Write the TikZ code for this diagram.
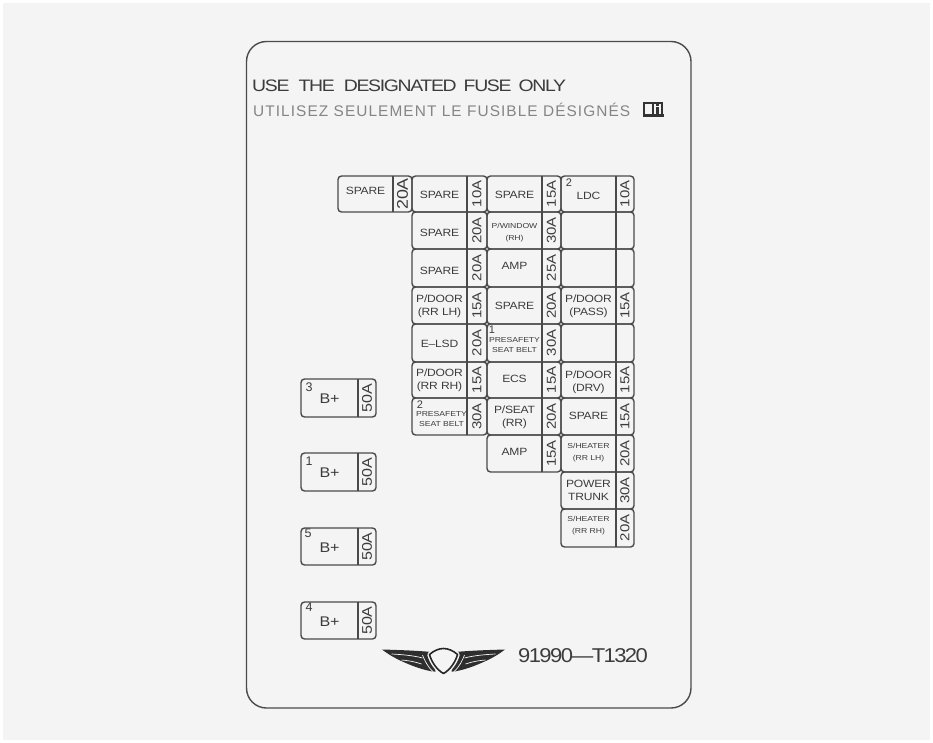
\documentclass[tikz,border=0pt]{standalone}
\usepackage{fontspec}
\setmainfont{Liberation Sans}
\newfontfamily\wide[FakeStretch=1.15,LetterSpace=-2]{Liberation Sans}
\newfontfamily\smallw[FakeStretch=1.2,LetterSpace=-1]{Liberation Sans}
\newfontfamily\titlew[FakeStretch=1.17,LetterSpace=-8]{Liberation Sans}
\newfontfamily\partw[FakeStretch=1.1,LetterSpace=-8]{Liberation Sans}
\newfontfamily\spaced[LetterSpace=7]{Liberation Sans}
\definecolor{bgc}{HTML}{F4F4F4}
\definecolor{ink}{HTML}{3C3C3C}
\definecolor{rule}{HTML}{4A4A4A}
\tikzset{
  x=1pt,y=-1pt,
  cellbox/.style={draw=rule,line width=1.4pt,rounded corners=3.5pt},
  divider/.style={draw=rule,line width=1.4pt},
  lab/.style={text=ink,inner sep=0pt,align=center,font=\wide\fontsize{10.5}{12.7}\selectfont},
  tiny/.style={text=ink,inner sep=0pt,align=center,font=\smallw\fontsize{7.2}{10}\selectfont},
  bplus/.style={lab,font=\wide\fontsize{14}{14}\selectfont},
  amp/.style={text=ink,inner sep=0pt,rotate=90,font=\wide\fontsize{13}{13}\selectfont},
  ampbig/.style={font=\wide\fontsize{15.5}{15}\selectfont},
  ampmid/.style={font=\wide\fontsize{14}{14}\selectfont},
  num/.style={text=ink,inner sep=0pt,font=\fontsize{11}{11}\selectfont},
  numbig/.style={num,font=\fontsize{12.5}{12}\selectfont},
  wingline/.style={draw=bgc,line width=.7pt},
}
\newcommand{\fusecell}[9]{%
  \draw[cellbox] (#2,#5) rectangle (#4,#6);
  \draw[divider] (#3,#5) -- (#3,#6);
  \path (#2,#5) -- (#3,#6) node[midway,yshift=-#7pt,#8] (#1) {#9};
  \fuseamp{#1}{#3}{#4}{#5}{#6}}
\newcommand{\fuseamp}[5]{\ampnext{#1}{#2}{#3}{#4}{#5}}
\newcommand{\ampnext}[6]{\path (#2,#4) -- (#3,#5) node[midway,amp,\ampstyle] (#1a) {#6};}
\newcommand{\ampstyle}{}
\begin{document}
\begin{tikzpicture}
\useasboundingbox (0,0) rectangle (933,743);
\fill[white] (0,0) rectangle (933,743);
\fill[bgc] (3,3) rectangle (930,740);
% card
\draw[draw=rule,line width=1.4pt,rounded corners=20pt] (246.5,41.5) rectangle (691,708);
% titles
\node[anchor=base west,inner sep=0pt,text=ink,font=\titlew\fontsize{16.6}{17}\selectfont] (t1) at (252,92) {USE\hspace{5pt} THE\hspace{5pt} DESIGNATED\hspace{3pt} FUSE\hspace{3pt} ONLY};
\node[anchor=base west,inner sep=0pt,text=black!48,font=\spaced\fontsize{15.4}{16}\selectfont] (t2) at (253,117) {UTILISEZ SEULEMENT LE FUSIBLE DÉSIGNÉS};
% book icon
\draw[black!80,line width=1.5pt,fill=bgc] (643.8,103) rectangle (653,115);
\draw[black!80,line width=1.5pt,fill=bgc] (653,103) rectangle (662.2,115);
\fill[black!80] (642.5,114) rectangle (663.5,116.8);
\fill[black!80] (656.3,107.5) rectangle (659.3,114);
\fill[black!80] (656.3,104.3) rectangle (659.3,106.3);
% detached fuse
\renewcommand{\ampstyle}{ampbig}
\fusecell{sp}{338}{393}{412}{176}{212}{-3}{lab}{SPARE}{20A}
\renewcommand{\ampstyle}{}
% column 1
\fusecell{a1}{412}{467}{487}{176}{212}{1}{lab}{SPARE}{10A}
\fusecell{a2}{412}{467}{487}{212}{249}{2}{lab}{SPARE}{20A}
\fusecell{a3}{412}{467}{487}{249}{287}{3}{lab}{SPARE}{20A}
\fusecell{a4}{412}{467}{487}{287}{324}{1}{lab}{P/DOOR\\(RR LH)}{15A}
\fusecell{a5}{412}{467}{487}{324}{362}{1}{lab}{E–LSD}{20A}
\fusecell{a6}{412}{467}{487}{362}{398}{0}{lab}{P/DOOR\\(RR RH)}{15A}
\fusecell{a7}{412}{467}{487}{398}{435}{3}{tiny}{\hspace*{4pt}PRESAFETY\\\hspace*{4pt}SEAT BELT}{30A}
% column 2
\fusecell{b1}{487}{542}{561}{176}{212}{1}{lab}{SPARE}{15A}
\fusecell{b2}{487}{542}{561}{212}{249}{2.5}{tiny}{P/WINDOW\\[2pt](RH)}{30A}
\fusecell{b3}{487}{542}{561}{249}{287}{-2}{lab}{AMP}{25A}
\fusecell{b4}{487}{542}{561}{287}{324}{0}{lab}{SPARE}{20A}
\fusecell{b5}{487}{542}{561}{324}{362}{2}{tiny}{PRESAFETY\\SEAT BELT}{30A}
\fusecell{b6}{487}{542}{561}{362}{398}{-1}{lab}{ECS}{15A}
\fusecell{b7}{487}{542}{561}{398}{435}{1}{lab}{P/SEAT\\(RR)}{20A}
\fusecell{b8}{487}{542}{561}{435}{472}{-2}{lab}{AMP}{15A}
% column 3
\fusecell{c1}{561}{616}{634}{176}{212}{2}{lab}{LDC}{10A}
\fusecell{c2}{561}{616}{634}{212}{249}{0}{lab}{}{}
\fusecell{c3}{561}{616}{634}{249}{287}{0}{lab}{}{}
\fusecell{c4}{561}{616}{634}{287}{324}{1}{lab}{P/DOOR\\(PASS)}{15A}
\fusecell{c5}{561}{616}{634}{324}{362}{0}{lab}{}{}
\fusecell{c6}{561}{616}{634}{362}{398}{2}{lab}{P/DOOR\\(DRV)}{15A}
\fusecell{c7}{561}{616}{634}{398}{435}{-1}{lab}{SPARE}{15A}
\fusecell{c8}{561}{616}{634}{435}{472}{-1}{tiny}{S/HEATER\\[2pt](RR LH)}{20A}
\fusecell{c9}{561}{616}{634}{472}{509}{0}{lab}{POWER\\TRUNK}{30A}
\fusecell{c10}{561}{616}{634}{509}{547}{-2.5}{tiny}{S/HEATER\\[2pt](RR RH)}{20A}
% B+ fuses
\renewcommand{\ampstyle}{ampmid}
\fusecell{p3}{301}{358}{376}{379}{417}{1}{bplus}{B+}{50A}
\fusecell{p1}{301}{358}{376}{453}{491}{1}{bplus}{B+}{50A}
\fusecell{p5}{301}{358}{376}{528}{565}{1}{bplus}{B+}{50A}
\fusecell{p4}{301}{358}{376}{602}{639}{1}{bplus}{B+}{50A}
% position numbers
\node[num] (n1) at (569,183) {2};
\node[num] (n2) at (492,330) {1};
\node[num] (n3) at (420,405) {2};
\node[numbig] (n4) at (309,387) {3};
\node[numbig] (n5) at (309,461) {1};
\node[numbig] (n6) at (308,533) {5};
\node[numbig] (n7) at (309,607) {4};
% logo
\foreach \s in {1,-1}{
\begin{scope}[shift={(443.5,0)},xscale=\s]
  \fill[black!82] (-61.5,649.5) .. controls (-45,650) and (-28,650.5) .. (-12,652)
     -- (-8,671.5) -- (-11,671.5) .. controls (-22,669.5) and (-31,666) .. (-40,662)
     .. controls (-48,658.5) and (-55,654.5) .. (-61.5,649.5) -- cycle;
  \draw[wingline] (-52,654) .. controls (-42,654.5) and (-30,655.5) .. (-21,658);
  \draw[wingline] (-42,660) .. controls (-36,660.5) and (-29,661.5) .. (-22,664);
  \draw[wingline] (-21,655) .. controls (-19,660) and (-16,667) .. (-10,672);
\end{scope}}
\draw[draw=bgc,line width=4.5pt,line join=round] (443.5,673.5)
  .. controls (437,670) and (431.5,662) .. (429.5,654.5)
  .. controls (434,650.5) and (439,648.5) .. (443.5,648.5)
  .. controls (448,648.5) and (453,650.5) .. (457.5,654.5)
  .. controls (455.5,662) and (450,670) .. (443.5,673.5) -- cycle;
\draw[draw=black!85,fill=bgc,line width=1.6pt,line join=round] (443.5,673.5)
  .. controls (437,670) and (431.5,662) .. (429.5,654.5)
  .. controls (434,650.5) and (439,648.5) .. (443.5,648.5)
  .. controls (448,648.5) and (453,650.5) .. (457.5,654.5)
  .. controls (455.5,662) and (450,670) .. (443.5,673.5) -- cycle;
\node[anchor=base west,inner sep=0pt,text=ink,font=\partw\fontsize{20}{20}\selectfont] (pn) at (518,662) {91990—T1320};
\end{tikzpicture}
\end{document}
